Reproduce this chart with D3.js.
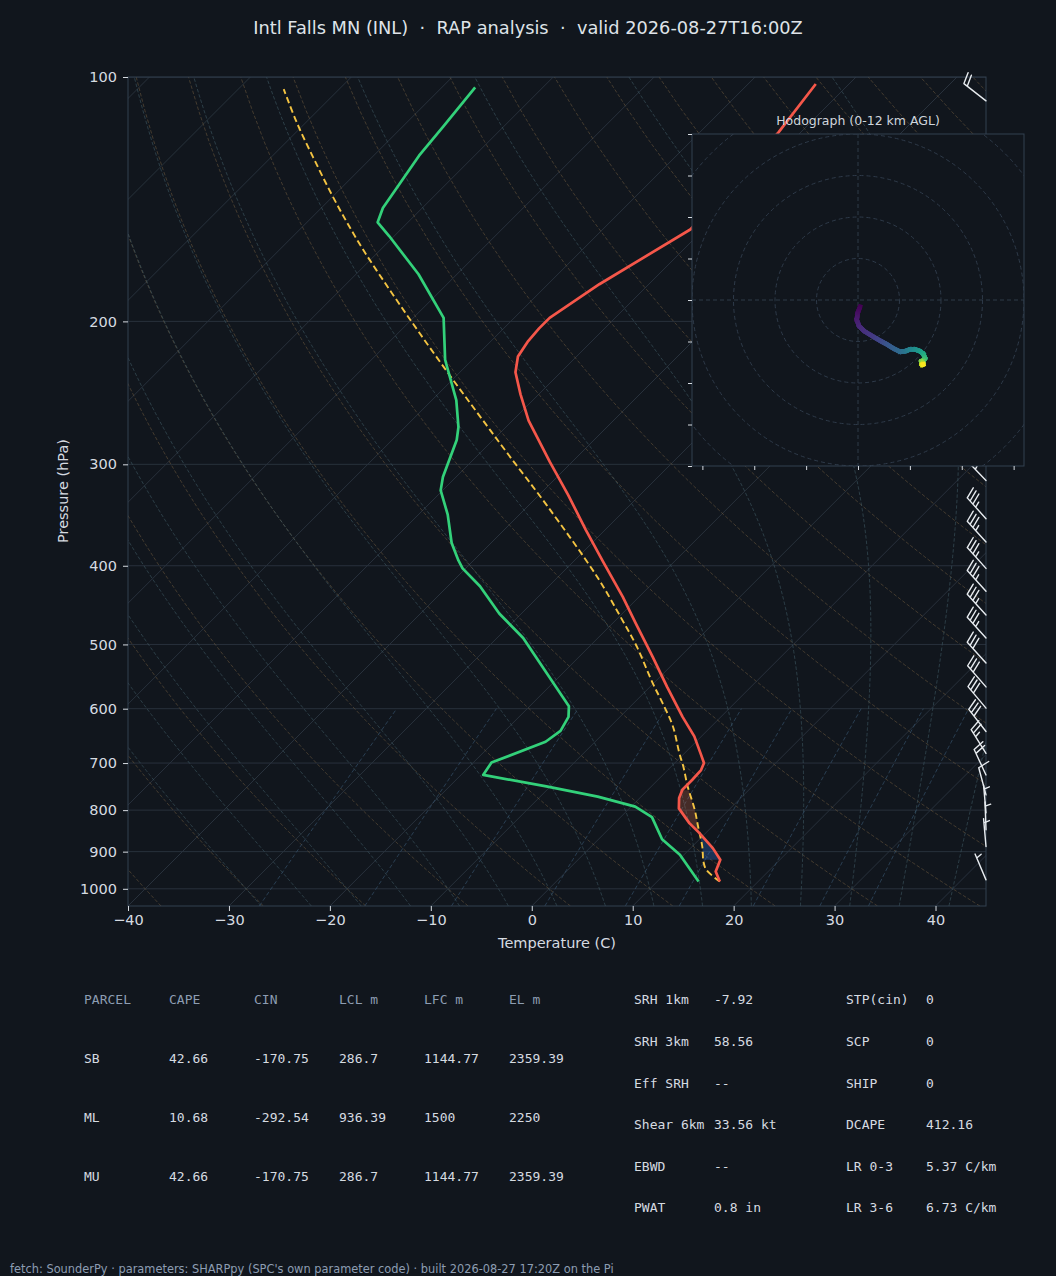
<!DOCTYPE html>
<html><head><meta charset="utf-8">
<script src="https://cdn.jsdelivr.net/npm/d3@7"></script>
<style>
html,body{margin:0;padding:0;background:#11161d;}
svg{display:block;}
text{white-space:pre;}
</style></head><body>
<svg id="c" width="1056" height="1276"></svg>
<script>
// ---------------- DATA ----------------
const titleText = "Intl Falls MN (INL)  \u00b7  RAP analysis  \u00b7  valid 2026-08-27T16:00Z";
const footerText = "fetch: SounderPy \u00b7 parameters: SHARPpy (SPC's own parameter code) \u00b7 built 2026-08-27 17:20Z on the Pi";

const pressureTicks = [100, 200, 300, 400, 500, 600, 700, 800, 900, 1000];
const tempTicks = [-40, -30, -20, -10, 0, 10, 20, 30, 40];

const tempP = [979.5, 952, 921, 891, 854, 830, 796, 773, 755, 734, 714, 700, 681, 649, 614, 564, 518, 471, 437, 395, 361.4, 327.3, 298, 265, 246, 231, 221, 212, 204, 198, 180, 154, 135, 117, 102];
const tempC = [16.2, 14.8, 14.1, 12.2, 9.4, 7.4, 4.9, 3.9, 3.4, 3.4, 3.3, 2.9, 1.6, -0.7, -3.8, -8.3, -12.7, -17.7, -21.6, -27.1, -31.9, -37.1, -42.2, -48.4, -51.8, -54.5, -55.8, -56.3, -56.5, -56.5, -54.9, -51.3, -51.8, -52.2, -53.3];

const dewP = [979.5, 908, 869, 816, 792, 770, 748, 724, 699, 659, 639, 614, 596, 491, 458, 424, 403, 394, 375, 346, 323, 311, 280, 270, 250, 223, 203, 198, 175, 157, 151, 145, 125, 115, 103];
const dewC = [14.1, 9.6, 6.3, 3.1, 0.4, -4.3, -10.4, -17.8, -18.2, -14.9, -14.5, -15.1, -16.1, -27.4, -32.2, -36.8, -40.3, -41.5, -43.9, -47.1, -50.2, -51.3, -53.6, -54.7, -57.6, -62.7, -66.1, -67.0, -73.8, -80.5, -83.0, -83.9, -85.5, -86.0, -86.7];

const parcelP = [979.5, 947.5, 925.5, 887, 838, 799, 748, 707, 681, 631, 591, 558, 503, 462, 413, 337, 292, 262, 235, 207, 184.5, 162.4, 143.8, 127.6, 114.0, 103.5];
const parcelC = [16.2, 13.7, 12.6, 11.0, 8.6, 6.6, 3.6, 1.2, -0.5, -3.8, -7.1, -10.1, -15.3, -19.9, -26.1, -38.2, -47.0, -53.6, -60.2, -67.8, -74.6, -82.0, -88.7, -95.0, -100.8, -105.5];

const capeLayer = [756, 854];
const cinLayer = [854, 921];

const barbP = [975, 887, 846, 806, 766, 724, 681, 640, 599, 564, 527, 491, 460, 430, 403, 374, 350, 314, 292, 272, 250, 230, 211, 194, 178, 163, 150, 107];
const barbDir = [337, 355, 358, 355, 345, 335, 328, 322, 320, 319, 318, 318, 318, 318, 318, 318, 318, 316, 315, 314, 313, 312, 312, 311, 310, 310, 309, 308];
const barbSpd = [5, 5, 5, 5, 10, 20, 25, 30, 30, 30, 30, 35, 35, 35, 35, 35, 35, 35, 40, 40, 40, 40, 40, 40, 40, 35, 30, 20];

const hodoU = [1.0, -0.2, -0.6, 0.5, 3.0, 7.4, 11.0, 13.8, 17.0, 20.2, 23.0, 25.1, 27.5, 29.9, 31.5, 32.3, 31.5, 30.5, 31.2, 30.8, 31.5];
const hodoV = [-3.2, -6.5, -9.5, -12.5, -15.0, -17.7, -19.8, -21.3, -23.3, -24.9, -24.6, -23.8, -23.8, -24.7, -26.0, -28.1, -29.5, -29.5, -30.5, -31.2, -31.0];
const hodoH = [0, 0.4, 0.8, 1.2, 1.6, 2.0, 2.5, 3.0, 3.5, 4.0, 4.6, 5.2, 5.8, 6.4, 7.0, 7.8, 8.6, 9.4, 10.2, 11.0, 12.0];
const hodoRings = [20, 40, 60, 80, 100, 120];
const hodoXTicks = [-75, -50, -25, 0, 25, 50, 75];
const hodoYTicks = [-80, -60, -40, -20, 0, 20, 40, 60, 80];

const dryTheta = d3.range(-40, 200, 10);
const moistT0 = d3.range(-30, 41, 5);
const mixingW = [0.0004, 0.001, 0.002, 0.004, 0.007, 0.01, 0.016, 0.024, 0.032];

const tableHeader = ["PARCEL", "CAPE", "CIN", "LCL m", "LFC m", "EL m"];
const parcelNames = ["SB", "ML", "MU"];
const capeVals = ["42.66", "10.68", "42.66"];
const cinVals = ["-170.75", "-292.54", "-170.75"];
const lclVals = ["286.7", "936.39", "286.7"];
const lfcVals = ["1144.77", "1500", "1144.77"];
const elVals = ["2359.39", "2250", "2359.39"];
const paramLabelsA = ["SRH 1km", "SRH 3km", "Eff SRH", "Shear 6km", "EBWD", "PWAT"];
const paramValsA = ["-7.92", "58.56", "--", "33.56 kt", "--", "0.8 in"];
const paramLabelsB = ["STP(cin)", "SCP", "SHIP", "DCAPE", "LR 0-3", "LR 3-6"];
const paramValsB = ["0", "0", "0", "412.16", "5.37 C/km", "6.73 C/km"];

// ---------------- LAYOUT ----------------
const svg = d3.select("#c");
const BG = "#11161d";
const L = 128, R = 986, TOP = 77, B = 906;
const pBottom = 1050, pTop = 100;
const y = d3.scaleLog().domain([pBottom, pTop]).range([B, TOP]);
const xT = d3.scaleLinear().domain([-40, 45]).range([L, R]);
const SKEW = 1.0;
const sx = (t, p) => xT(t) + (B - y(p)) * SKEW;

const textCol = "#d6dbe1", gridCol = "#28313c", spineCol = "#334050";
const sans = "'DejaVu Sans', sans-serif", mono = "'DejaVu Sans Mono', monospace";

svg.append("rect").attr("width", 1056).attr("height", 1276).attr("fill", BG);

const defs = svg.append("defs");
defs.append("clipPath").attr("id", "plotclip").append("rect")
  .attr("x", L).attr("y", TOP).attr("width", R - L).attr("height", B - TOP);

const plot = svg.append("g").attr("clip-path", "url(#plotclip)");
const lineGen = d3.line().x(d => sx(d.t, d.p)).y(d => y(d.p));

// isobars
plot.selectAll(".isobar").data(pressureTicks).join("line")
  .attr("x1", L).attr("x2", R).attr("y1", d => y(d)).attr("y2", d => y(d))
  .attr("stroke", gridCol).attr("stroke-width", 1);
// isotherms
plot.selectAll(".isotherm").data(d3.range(-140, 50, 10)).join("line")
  .attr("x1", d => sx(d, pBottom)).attr("y1", B).attr("x2", d => sx(d, pTop)).attr("y2", TOP)
  .attr("stroke", gridCol).attr("stroke-width", 1);

// thermodynamics helpers for reference lines
const Rd = 287.04749, Cp = 1004.6662, Lv = 2.50084e6, EPS = 0.6219569;
const kappa = Rd / Cp;
const esat = tk => { const tc = tk - 273.15; return 6.112 * Math.exp(17.67 * tc / (tc + 243.5)); };
function dTdp(p, tk) {
  const es = esat(tk); const rs = EPS * es / (p - es);
  return (1 / p) * (Rd * tk + Lv * rs) / (Cp + Lv * Lv * rs * EPS / (Rd * tk * tk));
}
function moistLine(t0) {
  const up = [], down = [];
  let tk = t0 + 273.15, p = 1000, h = -5;
  up.push({ p, t: t0 });
  while (p > pTop) {
    const k1 = dTdp(p, tk), k2 = dTdp(p + h / 2, tk + h / 2 * k1), k3 = dTdp(p + h / 2, tk + h / 2 * k2), k4 = dTdp(p + h, tk + h * k3);
    tk += h / 6 * (k1 + 2 * k2 + 2 * k3 + k4); p += h;
    up.push({ p, t: tk - 273.15 });
  }
  tk = t0 + 273.15; p = 1000; h = 5;
  while (p < pBottom) {
    const k1 = dTdp(p, tk), k2 = dTdp(p + h / 2, tk + h / 2 * k1), k3 = dTdp(p + h / 2, tk + h / 2 * k2), k4 = dTdp(p + h, tk + h * k3);
    tk += h / 6 * (k1 + 2 * k2 + 2 * k3 + k4); p += h;
    down.push({ p, t: tk - 273.15 });
  }
  return down.reverse().concat(up);
}
const pLevels = d3.range(pBottom, pTop - 1, -10);

// dry adiabats
plot.selectAll(".dry").data(dryTheta).join("path")
  .attr("d", th => lineGen(pLevels.map(p => ({ p, t: (th + 273.15) * Math.pow(p / 1000, kappa) - 273.15 }))))
  .attr("fill", "none").attr("stroke", "#6e5a3e").attr("stroke-opacity", 0.55)
  .attr("stroke-width", 1).attr("stroke-dasharray", "3.5,2");
// moist adiabats
plot.selectAll(".moist").data(moistT0).join("path")
  .attr("d", t0 => lineGen(moistLine(t0)))
  .attr("fill", "none").attr("stroke", "#3d5862").attr("stroke-opacity", 0.6)
  .attr("stroke-width", 1).attr("stroke-dasharray", "3.5,2");
// mixing ratio lines
const mixP = d3.range(pBottom, 599, -10);
plot.selectAll(".mix").data(mixingW).join("path")
  .attr("d", w => lineGen(mixP.map(p => {
    const e = w * p / (EPS + w); const lg = Math.log(e / 6.112);
    return { p, t: 243.5 * lg / (17.67 - lg) };
  })))
  .attr("fill", "none").attr("stroke", "#3a5a76").attr("stroke-opacity", 0.6)
  .attr("stroke-width", 1).attr("stroke-dasharray", "4,2.5");

// interpolation in log-p
function interp(ps, ts, p) {
  for (let i = 0; i < ps.length - 1; i++) {
    const a = ps[i], b = ps[i + 1];
    if ((p <= a && p >= b)) {
      const f = (Math.log(p) - Math.log(a)) / (Math.log(b) - Math.log(a));
      return ts[i] + f * (ts[i + 1] - ts[i]);
    }
  }
  return NaN;
}
function layer(pr) {
  const n = 80, out = [];
  for (let i = 0; i <= n; i++) {
    const p = Math.exp(Math.log(pr[1]) + (Math.log(pr[0]) - Math.log(pr[1])) * i / n);
    out.push({ p, tp: interp(parcelP, parcelC, p), te: interp(tempP, tempC, p) });
  }
  return out;
}
const areaGen = d3.area().x0(d => sx(d.tp, d.p)).x1(d => sx(d.te, d.p)).y(d => y(d.p));
plot.append("path").attr("d", areaGen(layer(capeLayer))).attr("fill", "#ff7a50").attr("fill-opacity", 0.22);
plot.append("path").attr("d", areaGen(layer(cinLayer))).attr("fill", "#2f6fd0").attr("fill-opacity", 0.32);

// traces
const toPts = (ps, ts) => ps.map((p, i) => ({ p, t: ts[i] }));
plot.append("path").attr("d", lineGen.curve(d3.curveCatmullRom.alpha(0.5))(toPts(parcelP, parcelC)))
  .attr("fill", "none").attr("stroke", "#f4c442").attr("stroke-width", 1.9).attr("stroke-dasharray", "6.5,3.5");
lineGen.curve(d3.curveLinear);
plot.append("path").attr("d", lineGen(toPts(tempP, tempC)))
  .attr("fill", "none").attr("stroke", "#f5574a").attr("stroke-width", 2.7).attr("stroke-linejoin", "round");
plot.append("path").attr("d", lineGen(toPts(dewP, dewC)))
  .attr("fill", "none").attr("stroke", "#33d17a").attr("stroke-width", 2.7).attr("stroke-linejoin", "round");

// axes frame
svg.append("rect").attr("x", L).attr("y", TOP).attr("width", R - L).attr("height", B - TOP)
  .attr("fill", "none").attr("stroke", spineCol).attr("stroke-width", 1);

const yAxis = svg.append("g").attr("transform", `translate(${L},0)`)
  .call(d3.axisLeft(y).tickValues(pressureTicks).tickFormat(d3.format("d")).tickSize(5).tickPadding(6));
const xAxis = svg.append("g").attr("transform", `translate(0,${B})`)
  .call(d3.axisBottom(xT).tickValues(tempTicks).tickFormat(d3.format("d")).tickSize(5).tickPadding(4));
[yAxis, xAxis].forEach(a => {
  a.select(".domain").remove();
  a.selectAll("line").attr("stroke", textCol);
  a.selectAll("text").attr("fill", textCol).attr("font-family", sans).attr("font-size", 14.5);
});

svg.append("text").attr("x", 557).attr("y", 943).attr("text-anchor", "middle").attr("dominant-baseline", "central")
  .attr("fill", textCol).attr("font-family", sans).attr("font-size", 14.5).text("Temperature (C)");
svg.append("text").attr("transform", "translate(63,491) rotate(-90)").attr("text-anchor", "middle").attr("dominant-baseline", "central")
  .attr("fill", textCol).attr("font-family", sans).attr("font-size", 14.5).text("Pressure (hPa)");
svg.append("text").attr("x", 528).attr("y", 27).attr("text-anchor", "middle").attr("dominant-baseline", "central")
  .attr("fill", "#dfe3e8").attr("font-family", sans).attr("font-size", 17.8).text(titleText);

// wind barbs
function barbPath(x0, y0, dir, spd) {
  const Ls = 28, rad = dir * Math.PI / 180;
  const vx = Math.sin(rad), vy = -Math.cos(rad);
  const px = -vy, py = vx;
  const tx = x0 + vx * Ls, ty = y0 + vy * Ls;
  let s = Math.round(spd / 5) * 5;
  const nFlag = Math.floor(s / 50); s -= nFlag * 50;
  const nFull = Math.floor(s / 10); s -= nFull * 10;
  const half = s >= 5;
  const sp = 0.15 * Ls, fh = 0.4 * Ls, fw = 0.25 * Ls;
  let d = `M${x0},${y0}L${tx},${ty}`, off = 0;
  for (let i = 0; i < nFlag; i++) {
    const bx = tx - vx * off, by = ty - vy * off;
    d += `M${bx},${by}L${bx + px * fh - vx * fw / 2},${by + py * fh - vy * fw / 2}L${bx - vx * fw},${by - vy * fw}Z`;
    off += fw + sp;
  }
  for (let i = 0; i < nFull; i++) {
    const bx = tx - vx * off, by = ty - vy * off;
    d += `M${bx},${by}L${bx + px * fh + vx * fw / 2},${by + py * fh + vy * fw / 2}`;
    off += sp;
  }
  if (half) {
    if (nFlag + nFull === 0) off += sp;
    const bx = tx - vx * off, by = ty - vy * off;
    d += `M${bx},${by}L${bx + px * fh / 2 + vx * fw / 4},${by + py * fh / 2 + vy * fw / 4}`;
  }
  return d;
}
svg.append("g").selectAll("path").data(barbP).join("path")
  .attr("d", (p, i) => barbPath(R, y(p), barbDir[i], barbSpd[i]))
  .attr("fill", "#e8ecf0").attr("stroke", "#e8ecf0").attr("stroke-width", 1.4)
  .attr("stroke-linecap", "round").attr("stroke-linejoin", "round");

// ---------------- HODOGRAPH ----------------
const hx0 = 692, hx1 = 1024, hy0 = 134, hy1 = 466;
const hu = d3.scaleLinear().domain([-80, 80]).range([hx0, hx1]);
const hv = d3.scaleLinear().domain([-80, 80]).range([hy1, hy0]);
const hodo = svg.append("g");
hodo.append("rect").attr("x", hx0).attr("y", hy0).attr("width", hx1 - hx0).attr("height", hy1 - hy0).attr("fill", BG);
defs.append("clipPath").attr("id", "hodoclip").append("rect")
  .attr("x", hx0).attr("y", hy0).attr("width", hx1 - hx0).attr("height", hy1 - hy0);
const hin = hodo.append("g").attr("clip-path", "url(#hodoclip)");
const ringCol = "#2e3a49";
hin.selectAll("circle").data(hodoRings).join("circle")
  .attr("cx", hu(0)).attr("cy", hv(0)).attr("r", d => hu(d) - hu(0))
  .attr("fill", "none").attr("stroke", ringCol).attr("stroke-width", 1).attr("stroke-dasharray", "4,3");
hin.append("line").attr("x1", hx0).attr("x2", hx1).attr("y1", hv(0)).attr("y2", hv(0))
  .attr("stroke", ringCol).attr("stroke-dasharray", "4,3");
hin.append("line").attr("y1", hy0).attr("y2", hy1).attr("x1", hu(0)).attr("x2", hu(0))
  .attr("stroke", ringCol).attr("stroke-dasharray", "4,3");
// trace colored by height
const segs = [];
for (let i = 0; i < hodoU.length - 1; i++) {
  const n = 5;
  for (let k = 0; k < n; k++) {
    const f0 = k / n, f1 = (k + 1) / n;
    segs.push({
      u0: hodoU[i] + (hodoU[i + 1] - hodoU[i]) * f0, v0: hodoV[i] + (hodoV[i + 1] - hodoV[i]) * f0,
      u1: hodoU[i] + (hodoU[i + 1] - hodoU[i]) * f1, v1: hodoV[i] + (hodoV[i + 1] - hodoV[i]) * f1,
      h: hodoH[i] + (hodoH[i + 1] - hodoH[i]) * (f0 + f1) / 2
    });
  }
}
hin.selectAll(".seg").data(segs).join("line")
  .attr("x1", d => hu(d.u0)).attr("y1", d => hv(d.v0)).attr("x2", d => hu(d.u1)).attr("y2", d => hv(d.v1))
  .attr("stroke", d => d3.interpolateViridis(d.h / 12)).attr("stroke-width", 4.5).attr("stroke-linecap", "square");
hodo.append("rect").attr("x", hx0).attr("y", hy0).attr("width", hx1 - hx0).attr("height", hy1 - hy0)
  .attr("fill", "none").attr("stroke", spineCol).attr("stroke-width", 1);
hodo.append("g").attr("transform", `translate(${hx0},0)`)
  .call(d3.axisLeft(hv).tickValues(hodoYTicks).tickFormat("").tickSize(4))
  .call(g => { g.select(".domain").remove(); g.selectAll("line").attr("stroke", textCol); });
hodo.append("g").attr("transform", `translate(0,${hy1})`)
  .call(d3.axisBottom(hu).tickValues(hodoXTicks).tickFormat("").tickSize(4))
  .call(g => { g.select(".domain").remove(); g.selectAll("line").attr("stroke", textCol); });
hodo.append("text").attr("x", (hx0 + hx1) / 2).attr("y", 120).attr("text-anchor", "middle").attr("dominant-baseline", "central")
  .attr("fill", "#cfd5dc").attr("font-family", sans).attr("font-size", 12.5).text("Hodograph (0-12 km AGL)");

// ---------------- TABLES ----------------
const hdrCol = "#8d9db2", valCol = "#d6dbe1";
const colX = [84, 169, 254, 339, 424, 509];
const tbl = svg.append("g").attr("font-family", mono).attr("font-size", 13).attr("dominant-baseline", "central");
tableHeader.forEach((h, i) => tbl.append("text").attr("x", colX[i]).attr("y", 999).attr("fill", hdrCol).text(h));
const rowY = [1058, 1117, 1176];
const cols = [parcelNames, capeVals, cinVals, lclVals, lfcVals, elVals];
cols.forEach((arr, ci) => arr.forEach((v, ri) =>
  tbl.append("text").attr("x", colX[ci]).attr("y", rowY[ri]).attr("fill", valCol).text(v)));
const pRowY = [999, 1041, 1083, 1124, 1166, 1207];
paramLabelsA.forEach((t, i) => {
  tbl.append("text").attr("x", 634).attr("y", pRowY[i]).attr("fill", valCol).text(t);
  tbl.append("text").attr("x", 714).attr("y", pRowY[i]).attr("fill", valCol).text(paramValsA[i]);
});
paramLabelsB.forEach((t, i) => {
  tbl.append("text").attr("x", 846).attr("y", pRowY[i]).attr("fill", valCol).text(t);
  tbl.append("text").attr("x", 926).attr("y", pRowY[i]).attr("fill", valCol).text(paramValsB[i]);
});

svg.append("text").attr("x", 10).attr("y", 1269).attr("dominant-baseline", "central")
  .attr("fill", "#8d9db2").attr("font-family", sans).attr("font-size", 11.4).text(footerText);
</script>
</body></html>
